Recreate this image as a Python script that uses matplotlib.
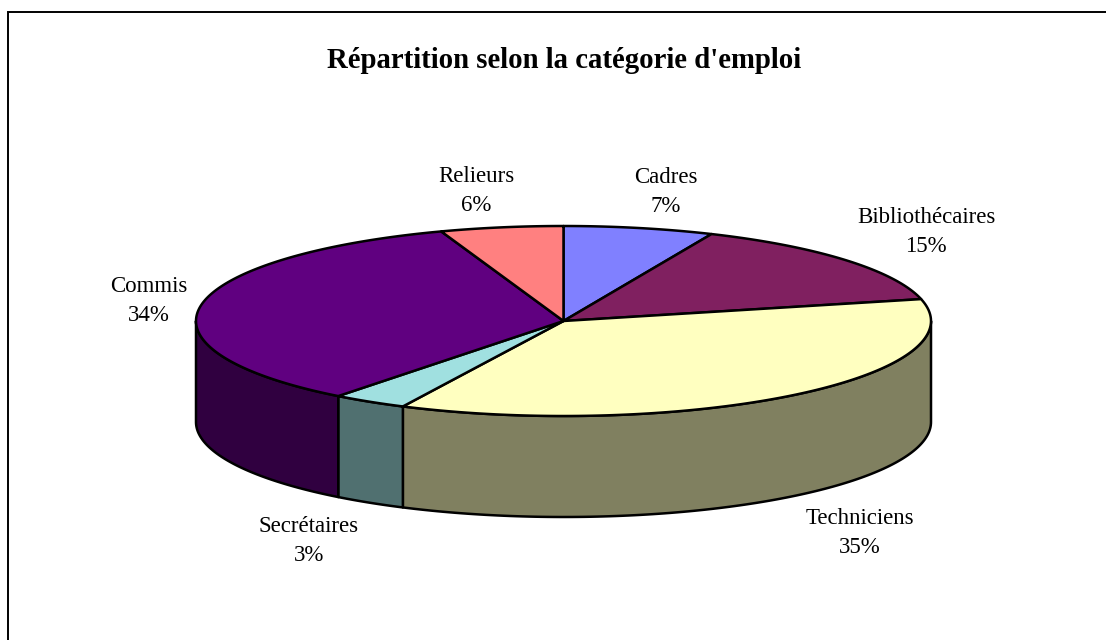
import numpy as np
import matplotlib
matplotlib.use("Agg")
import matplotlib.pyplot as plt
from matplotlib.patches import Polygon

categories = ["Cadres", "Bibliothécaires", "Techniciens", "Secrétaires", "Commis", "Relieurs"]
shares = [6.6, 14.7, 35.9, 3.3, 34.1, 5.4]
percent_labels = ["7%", "15%", "35%", "3%", "34%", "6%"]
top_colors = ["#8080FF", "#802060", "#FFFFC0", "#A0E0E0", "#600080", "#FF8080"]
side_colors = ["#404080", "#401030", "#808060", "#507070", "#300040", "#804040"]
label_xy = [(666, 192), (926, 232), (860, 533), (309, 541), (149, 301), (476, 191)]
title = "Répartition selon la catégorie d'emploi"

W, H = 1106, 640
CX, CY, RX, RY, DEPTH = 563.5, 321, 367.5, 95, 101
LW = 1.8
SERIF = ["Liberation Serif", "DejaVu Serif"]

fig = plt.figure(figsize=(W / 100, H / 100), dpi=100, facecolor="white")
ax = fig.add_axes([0, 0, 1, 1])
ax.set_xlim(0, W)
ax.set_ylim(H, 0)
ax.axis("off")

# frame: only top and left edges are visible in the crop
ax.plot([7.5, 7.5, W], [H, 11.5, 11.5], color="black", lw=1.4, solid_joinstyle="miter")


def rim(a0, a1, n=120):
    t = np.radians(np.linspace(a0, a1, n))
    return CX + RX * np.sin(t), CY - RY * np.cos(t)


edges = np.concatenate([[0], np.cumsum(shares)]) / np.sum(shares) * 360

# side walls: only the front half of the rim (90 to 270 degrees clockwise from top)
for i in range(len(shares)):
    a0, a1 = max(edges[i], 90), min(edges[i + 1], 270)
    if a1 <= a0:
        continue
    x, y = rim(a0, a1)
    pts = np.vstack([np.c_[x, y], np.c_[x[::-1], y[::-1] + DEPTH]])
    ax.add_patch(Polygon(pts, closed=True, fc=side_colors[i], ec="black", lw=LW, joinstyle="round", zorder=2))

# top faces
for i in range(len(shares)):
    x, y = rim(edges[i], edges[i + 1])
    pts = np.vstack([[CX, CY], np.c_[x, y]])
    ax.add_patch(Polygon(pts, closed=True, fc=top_colors[i], ec="black", lw=LW, joinstyle="round", zorder=3))

for name, pct, (lx, ly) in zip(categories, percent_labels, label_xy):
    ax.text(lx, ly, f"{name}\n{pct}", ha="center", va="center", fontsize=16.5, family=SERIF,
            linespacing=1.47, color="black", zorder=5)

ax.text(564.5, 60.5, title, ha="center", va="center", fontsize=20.7, fontweight="bold", family=SERIF, color="black")

fig.savefig("out.png", dpi=100, facecolor="white")
